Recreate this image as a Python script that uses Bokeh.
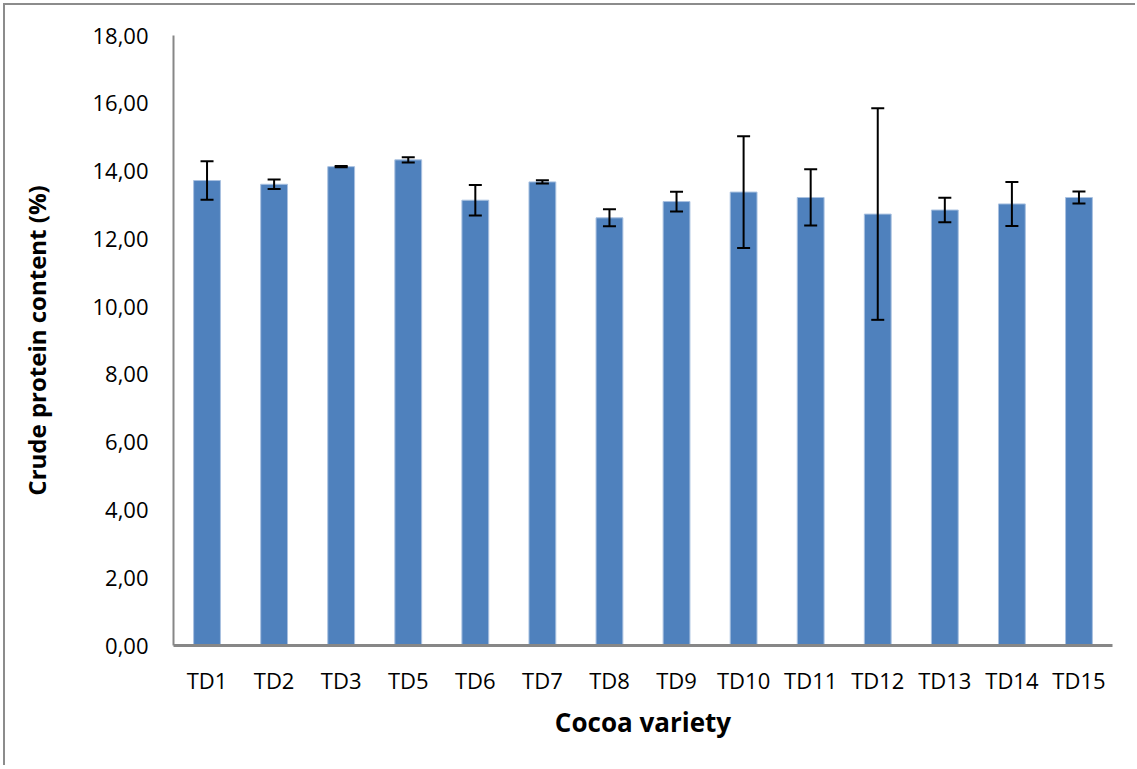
from bokeh.plotting import figure
from bokeh.models import ColumnDataSource, Whisker, TeeHead, FixedTicker, CustomJSTickFormatter
from bokeh.embed import file_html
from bokeh.resources import INLINE

categories = ["TD1", "TD2", "TD3", "TD5", "TD6", "TD7", "TD8", "TD9", "TD10",
              "TD11", "TD12", "TD13", "TD14", "TD15"]
protein = [13.72, 13.61, 14.13, 14.33, 13.14, 13.68, 12.62, 13.10, 13.38,
           13.22, 12.73, 12.85, 13.03, 13.22]
std_dev = [0.57, 0.14, 0.02, 0.08, 0.45, 0.05, 0.25, 0.29, 1.65,
           0.83, 3.12, 0.36, 0.65, 0.18]
y_ticks = [0, 2, 4, 6, 8, 10, 12, 14, 16, 18]

upper = [v + e for v, e in zip(protein, std_dev)]
lower = [v - e for v, e in zip(protein, std_dev)]
source = ColumnDataSource(data=dict(cat=categories, val=protein, upper=upper, lower=lower))

FONT = "Open Sans"

p = figure(x_range=categories, y_range=(0, 18), width=1132, height=762,
           output_backend="svg", toolbar_location=None,
           min_border_left=168, min_border_right=25, min_border_top=30, min_border_bottom=122)
p.styles = {"margin-left": "3px", "margin-top": "3px",
            "border-left": "2px solid #8c8c8c", "border-top": "2px solid #8c8c8c"}

p.x_range.range_padding = 0
p.vbar(x="cat", top="val", width=0.4, source=source,
       fill_color="#4F81BD", line_color="#A9C1E0", line_width=1)

whisker = Whisker(base="cat", upper="upper", lower="lower", source=source,
                  line_color="black", line_width=2, level="overlay",
                  upper_head=TeeHead(size=13, line_color="black", line_width=2),
                  lower_head=TeeHead(size=13, line_color="black", line_width=2))
p.add_layout(whisker)

p.xgrid.visible = False
p.ygrid.visible = False
p.outline_line_color = None
p.background_fill_color = "white"
p.border_fill_color = "white"

p.yaxis.ticker = FixedTicker(ticks=y_ticks)
p.yaxis.formatter = CustomJSTickFormatter(code="return tick.toFixed(2).replace('.', ',');")

for ax in (p.xaxis[0], p.yaxis[0]):
    ax.axis_line_color = "#878787"
    ax.major_tick_line_color = None
    ax.minor_tick_line_color = None
    ax.major_label_text_font = FONT
    ax.major_label_text_font_size = "22px"
    ax.major_label_text_color = "black"
    ax.axis_label_text_font = FONT
    ax.axis_label_text_font_style = "bold"
    ax.axis_label_text_color = "black"

p.xaxis.axis_line_width = 3
p.yaxis.axis_line_width = 2
p.yaxis.major_label_standoff = 19
p.xaxis.major_label_standoff = 13

p.xaxis.axis_label = "Cocoa variety"
p.xaxis.axis_label_text_font_size = "26px"
p.xaxis.axis_label_standoff = 6
p.yaxis.axis_label = "Crude protein content (%)"
p.yaxis.axis_label_text_font_size = "24px"
p.yaxis.axis_label_standoff = 36

open("out.html", "w").write(file_html(p, INLINE))
